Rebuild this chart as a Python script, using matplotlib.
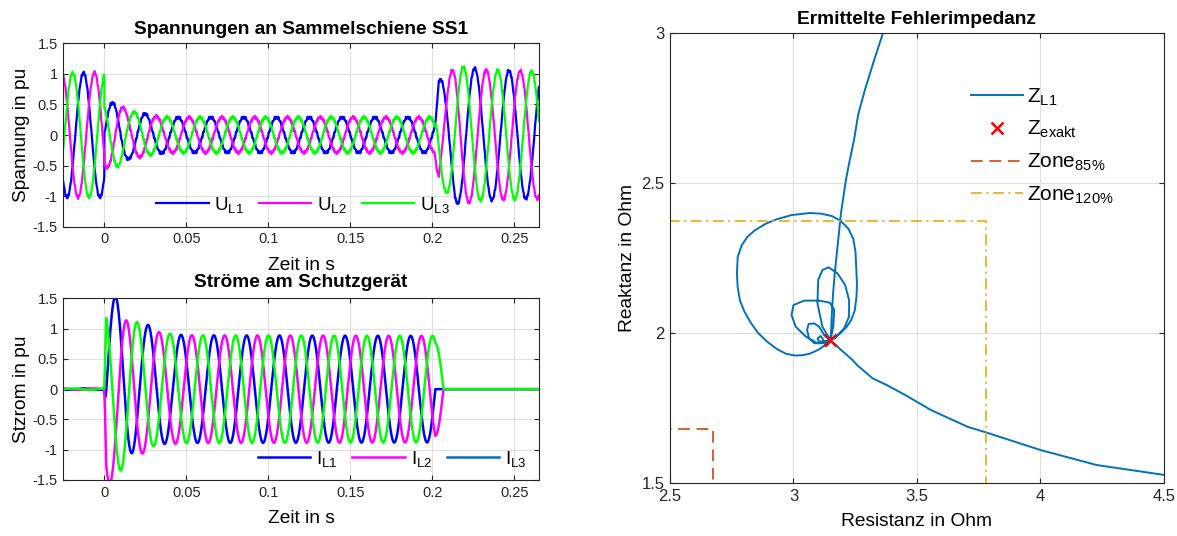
import numpy as np
import matplotlib
matplotlib.use("Agg")
import matplotlib.pyplot as plt
from matplotlib.lines import Line2D
from matplotlib.ticker import FuncFormatter, MultipleLocator

# Zeitachse / Netz
T_START = -0.025
T_END = 0.265
F_NETZ = 50.0

# Spannungen an SS1 (Scheitelzeitpunkte je Leiter innerhalb einer Periode, in s)
U_VOR_AMP = 1.02
U_VOR_SCHEITEL = [0.0073, 0.0140, 0.0007]
U_FEHLER_SCHEITEL = [0.0050, 0.0117, 0.0183]
U_FEHLER_HUELLE_T = [0.0, 0.007, 0.010, 0.013, 0.016, 0.020, 0.025, 0.030, 0.040, 0.200]
U_FEHLER_HUELLE = [0.53, 0.53, 0.48, 0.42, 0.38, 0.37, 0.35, 0.31, 0.29, 0.29]
U_NACH_HUELLE_T = [0.202, 0.208, 0.214, 0.220, 0.230, 0.265]
U_NACH_HUELLE = [0.90, 0.92, 1.12, 1.12, 1.07, 1.04]
U_NACH_VERSATZ_T = [0.202, 0.220, 0.240, 0.265]
U_NACH_VERSATZ = [-0.0025, -0.0017, -0.0008, 0.0]
T_KLAER_U = 0.2015
T_UEBERGANG_U = 0.0025
U_RIPPLE_HZ = [850.0, 1350.0]
U_RIPPLE_AMP = [0.015, 0.010]

# Stroeme am Schutzgeraet
I_VOR_AMP = 0.012
I_FEHLER_SCHEITEL = [0.0068, 0.0134, 0.0201]
I_HUELLE_T = [0.0, 0.008, 0.012, 0.017, 0.022, 0.030, 0.040, 0.050, 0.200]
I_HUELLE = [1.35, 1.32, 1.27, 1.18, 1.06, 0.96, 0.91, 0.89, 0.88]
I_DC_T = [0.0, 0.010, 0.020, 0.030, 0.045]
I_DC_L1 = [0.25, 0.18, 0.10, 0.04, 0.0]
I_DC_L2 = [-0.25, -0.15, -0.03, 0.0, 0.0]
I_DC_L3 = [-0.10, -0.05, 0.0, 0.02, 0.0]
I_ANSTIEG = 0.0012
T_KLAER_I1 = 0.2018
T_KLAER_I23 = 0.2068

# Ermittelte Fehlerimpedanz Z_L1 (Ortskurve, in Ohm)
R_L1 = [3.370, 3.330, 3.289, 3.262, 3.245, 3.226, 3.212, 3.192, 3.178, 3.168,
        3.160, 3.155, 3.152, 3.148,
        3.128, 3.103, 3.066, 3.036, 3.006, 2.969, 2.932, 2.895, 2.857, 2.828,
        2.802, 2.783, 2.774, 2.771, 2.774, 2.790, 2.813, 2.843, 2.887, 2.932,
        2.991, 3.066, 3.111, 3.155, 3.192, 3.222, 3.242, 3.251, 3.254, 3.257,
        3.255, 3.248, 3.234, 3.215, 3.188, 3.163, 3.148,
        3.117, 3.097, 3.100, 3.117, 3.142, 3.178, 3.209, 3.225, 3.225, 3.205,
        3.171, 3.150,
        3.161, 3.165, 3.147, 3.104, 3.043, 3.000, 2.992, 3.009, 3.050, 3.097,
        3.128, 3.146,
        3.124, 3.104, 3.084, 3.061, 3.055, 3.063, 3.084, 3.117, 3.140,
        3.104, 3.097, 3.111, 3.120, 3.134, 3.142, 3.146,
        3.170, 3.185, 3.239, 3.259, 3.320, 3.379, 3.453, 3.557, 3.706, 3.778,
        4.000, 4.227, 4.500, 4.550]
X_L1 = [3.020, 2.920, 2.811, 2.730, 2.644, 2.570, 2.510, 2.399, 2.287, 2.209,
        2.130, 2.060, 2.000, 1.979,
        1.961, 1.946, 1.932, 1.927, 1.926, 1.932, 1.948, 1.971, 2.001, 2.034,
        2.071, 2.110, 2.154, 2.198, 2.254, 2.293, 2.321, 2.343, 2.365, 2.380,
        2.394, 2.401, 2.399, 2.391, 2.374, 2.349, 2.315, 2.271, 2.220, 2.165,
        2.121, 2.076, 2.045, 2.021, 1.999, 1.982, 1.979,
        2.022, 2.100, 2.178, 2.211, 2.220, 2.200, 2.161, 2.111, 2.056, 2.017,
        1.987, 1.978,
        2.022, 2.078, 2.102, 2.109, 2.109, 2.094, 2.061, 2.022, 1.989, 1.967,
        1.969, 1.978,
        1.994, 2.022, 2.033, 2.031, 2.011, 1.983, 1.967, 1.967, 1.975,
        1.972, 1.983, 1.991, 1.978, 1.958, 1.964, 1.975,
        1.962, 1.950, 1.911, 1.893, 1.850, 1.827, 1.794, 1.744, 1.688, 1.670,
        1.611, 1.561, 1.528, 1.522]
R_EXAKT = 3.148
X_EXAKT = 1.979
ZONE_FAKTOR = [0.85, 1.20]

FARBE_U = ["#0000ff", "#ff00ff", "#00ff00"]
FARBE_I3_LEGENDE = "#0072BD"

plt.rcParams["font.family"] = ["Liberation Sans", "DejaVu Sans"]
plt.rcParams["mathtext.default"] = "regular"
plt.rcParams["axes.unicode_minus"] = False

w = 2 * np.pi * F_NETZ
t = np.arange(T_START, T_END + 1e-5, 2e-5)
vor = t < 0.0


def spannung(k):
    ripple = sum(a * np.sin(2 * np.pi * f * t + 2.1 * k)
                 for f, a in zip(U_RIPPLE_HZ, U_RIPPLE_AMP))
    u_vor = U_VOR_AMP * np.cos(w * (t - U_VOR_SCHEITEL[k]))
    u_f = np.interp(t, U_FEHLER_HUELLE_T, U_FEHLER_HUELLE) * np.cos(w * (t - U_FEHLER_SCHEITEL[k]))
    versatz = np.interp(t, U_NACH_VERSATZ_T, U_NACH_VERSATZ)
    u_n = np.interp(t, U_NACH_HUELLE_T, U_NACH_HUELLE) * np.cos(w * (t - U_VOR_SCHEITEL[k] - versatz))
    g = np.clip((t - T_KLAER_U) / T_UEBERGANG_U, 0, 1)
    u = np.where(vor, u_vor, (1 - g) * u_f + g * u_n)
    return u + ripple


def stroeme():
    dcs = [I_DC_L1, I_DC_L2, I_DC_L3]
    rampe = np.clip(t / I_ANSTIEG, 0, 1)
    huelle = np.interp(t, I_HUELLE_T, I_HUELLE)
    out = []
    for k in range(3):
        i_vor = I_VOR_AMP * np.cos(w * (t - U_VOR_SCHEITEL[k]))
        i_f = huelle * np.cos(w * (t - I_FEHLER_SCHEITEL[k])) + np.interp(t, I_DC_T, dcs[k])
        i = np.where(vor, i_vor, (1 - rampe) * i_vor + rampe * i_f)
        out.append(i)
    # L1 schaltet ab, L2/L3 fuehren danach noch zweipolig bis zum Nulldurchgang
    out[0] = np.where(t >= T_KLAER_I1, 0.0, out[0])
    phase = np.clip((t - T_KLAER_I1) / (T_KLAER_I23 - T_KLAER_I1), 0, 1)
    for k in (1, 2):
        ic = np.interp(T_KLAER_I1, t, out[k])
        zweipol = ic * np.cos(0.5 * np.pi * phase)
        out[k] = np.where(t >= T_KLAER_I23, 0.0, np.where(t >= T_KLAER_I1, zweipol, out[k]))
    return out


fmt = FuncFormatter(lambda v, p: f"{v:g}")


def matlab_achse(ax, tickgroesse):
    ax.grid(True, color="#dfdfdf", linewidth=0.8)
    ax.set_axisbelow(True)
    for s in ax.spines.values():
        s.set_color("#262626")
        s.set_linewidth(0.8)
    ax.tick_params(direction="in", top=True, right=True, length=3.5,
                   width=0.8, colors="#262626", labelsize=tickgroesse, pad=4)
    ax.xaxis.set_major_formatter(fmt)
    ax.yaxis.set_major_formatter(fmt)


fig = plt.figure(figsize=(11.77, 5.36), dpi=100)
ax_u = fig.add_axes([0.05378, 0.57705, 0.40408, 0.34216])
ax_i = fig.add_axes([0.05378, 0.10448, 0.40408, 0.33899])
ax_z = fig.add_axes([0.56924, 0.0983, 0.41971, 0.83955])

# Spannungen
linien_u = []
for k in range(3):
    ln, = ax_u.plot(t, spannung(k), color=FARBE_U[k], lw=1.6)
    linien_u.append(ln)
ax_u.set_xlim(T_START, T_END)
ax_u.set_ylim(-1.5, 1.5)
ax_u.xaxis.set_major_locator(MultipleLocator(0.05))
ax_u.yaxis.set_major_locator(MultipleLocator(0.5))
matlab_achse(ax_u, 10.5)
ax_u.set_title("Spannungen an Sammelschiene SS1", fontsize=13.8, fontweight="bold", pad=7)
ax_u.set_xlabel("Zeit in s", fontsize=13.8)
ax_u.set_ylabel("Spannung in pu", fontsize=13.8)
ax_u.xaxis.set_label_coords(0.5, -0.165)
ax_u.yaxis.set_label_coords(-0.069, 0.5)
ax_u.legend(linien_u, ["U$_{L1}$", "U$_{L2}$", "U$_{L3}$"], ncol=3, frameon=False,
            fontsize=13.5, handlelength=2.8, handletextpad=0.3, columnspacing=0.8,
            borderpad=0, borderaxespad=0, loc="lower left",
            bbox_to_anchor=(0.195, 0.066))

# Stroeme
linien_i = []
for k, i in enumerate(stroeme()):
    ln, = ax_i.plot(t, i, color=FARBE_U[k], lw=1.8)
    linien_i.append(ln)
ax_i.set_xlim(T_START, T_END)
ax_i.set_ylim(-1.5, 1.5)
ax_i.xaxis.set_major_locator(MultipleLocator(0.05))
ax_i.yaxis.set_major_locator(MultipleLocator(0.5))
matlab_achse(ax_i, 10.5)
ax_i.set_title("Ströme am Schutzgerät", fontsize=13.8, fontweight="bold", pad=8)
ax_i.set_xlabel("Zeit in s", fontsize=13.8)
ax_i.set_ylabel("Stzrom in pu", fontsize=13.8)
ax_i.xaxis.set_label_coords(0.5, -0.165)
ax_i.yaxis.set_label_coords(-0.069, 0.5)
griff_i3 = Line2D([], [], color=FARBE_I3_LEGENDE, lw=1.8)
ax_i.legend([linien_i[0], linien_i[1], griff_i3], ["I$_{L1}$", "I$_{L2}$", "I$_{L3}$"],
            ncol=3, frameon=False, fontsize=13.5, handlelength=2.8, handletextpad=0.3,
            columnspacing=0.8, borderpad=0, borderaxespad=0, loc="lower left",
            bbox_to_anchor=(0.409, 0.062))

# Fehlerimpedanz
ln_z, = ax_z.plot(R_L1, X_L1, color="#0072BD", lw=1.4)
ln_ex, = ax_z.plot([R_EXAKT], [X_EXAKT], linestyle="none", marker="x", color="red",
                   markersize=9, markeredgewidth=1.8)
r85, x85 = ZONE_FAKTOR[0] * R_EXAKT, ZONE_FAKTOR[0] * X_EXAKT
r120, x120 = ZONE_FAKTOR[1] * R_EXAKT, ZONE_FAKTOR[1] * X_EXAKT
ln_85, = ax_z.plot([0, r85, r85], [x85, x85, 0], color="#D95319", lw=1.3,
                   linestyle=(0, (6.5, 3.7)))
ln_120, = ax_z.plot([0, r120, r120], [x120, x120, 0], color="#EDB120", lw=1.3,
                    linestyle=(0, (6, 2.5, 1.2, 2.5)))
ax_z.set_xlim(2.5, 4.5)
ax_z.set_ylim(1.5, 3.0)
ax_z.xaxis.set_major_locator(MultipleLocator(0.5))
ax_z.yaxis.set_major_locator(MultipleLocator(0.5))
matlab_achse(ax_z, 12)
ax_z.set_title("Ermittelte Fehlerimpedanz", fontsize=13.8, fontweight="bold", pad=6.5)
ax_z.set_xlabel("Resistanz in Ohm", fontsize=13.8)
ax_z.set_ylabel("Reaktanz in Ohm", fontsize=13.8)
ax_z.xaxis.set_label_coords(0.5, -0.066)
ax_z.yaxis.set_label_coords(-0.068, 0.5)
ax_z.legend([ln_z, ln_ex, ln_85, ln_120],
            ["Z$_{L1}$", "Z$_{exakt}$", "Zone$_{85\\%}$", "Zone$_{120\\%}$"],
            frameon=False, fontsize=15, handlelength=2.48, handletextpad=0.23,
            labelspacing=0.55, borderpad=0, borderaxespad=0, loc="upper left",
            bbox_to_anchor=(0.609, 0.882))

fig.savefig("out.png", dpi=100)
